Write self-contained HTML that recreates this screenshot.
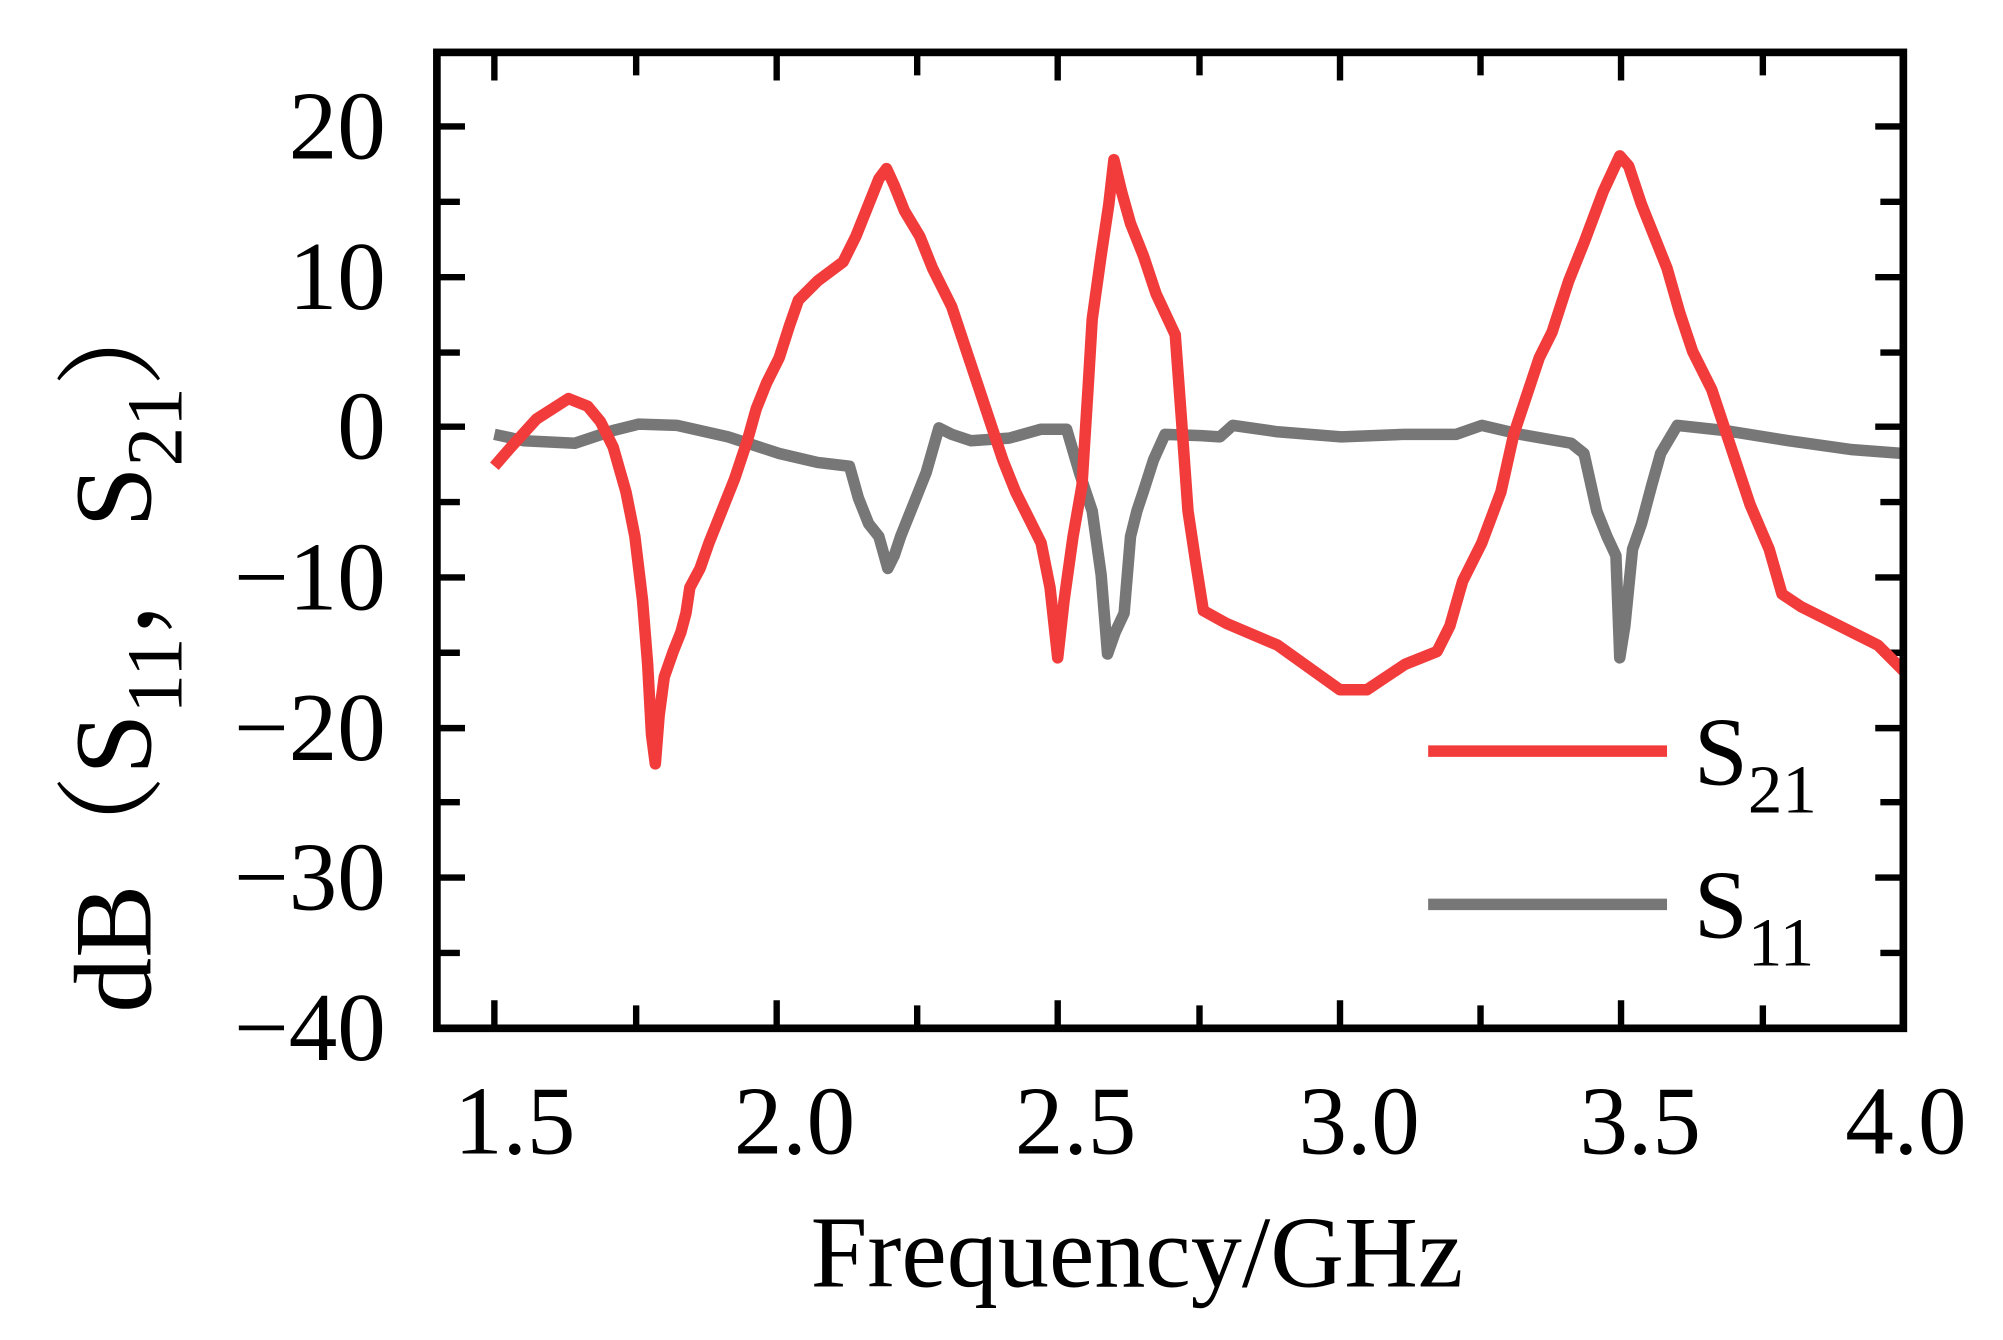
<!DOCTYPE html>
<html><head><meta charset="utf-8"><style>html,body{margin:0;padding:0;background:#fff}svg{display:block}</style></head>
<body>
<svg width="2003" height="1340" viewBox="0 0 1568 1049" xmlns="http://www.w3.org/2000/svg" font-family="'Liberation Serif', 'Noto Serif CJK SC', serif">
<rect x="0" y="0" width="1568" height="1049" fill="#fff"/>
<g stroke="#000" stroke-width="5">
<path d="M342 99h22M342 217h22M342 334h22M342 452h22M342 570h22M342 687h22M342 158h18M342 276h18M342 393h18M342 511h18M342 628h18M342 746h18
M1490 99h-22M1490 217h-22M1490 334h-22M1490 452h-22M1490 570h-22M1490 687h-22M1490 158h-18M1490 276h-18M1490 393h-18M1490 511h-18M1490 628h-18M1490 746h-18
M387 805v-22M608 805v-22M828 805v-22M1049 805v-22M1269 805v-22M498 805v-18M718 805v-18M939 805v-18M1159 805v-18M1380 805v-18
M387 41v22M608 41v22M828 41v22M1049 41v22M1269 41v22M498 41v18M718 41v18M939 41v18M1159 41v18M1380 41v18"/>
</g>
<polyline fill="none" stroke="#777" stroke-width="9" stroke-linejoin="round" points="387,340 410,345 450,347 480,337 500,332 530,333 570,342 610,355 640,362 665,365 672,390 680,410 688,420 695,445 700,435 705,420 715,395 725,370 735,335 745,340 760,345 790,343 815,336 835,336 845,370 855,400 862,450 867,512 873,495 880,480 885,420 890,400 895,385 903,360 912,340 940,341 955,342 965,333 1000,338 1050,342 1100,340 1140,340 1160,333 1190,340 1230,347 1240,355 1250,400 1258,420 1265,435 1268,515 1272,490 1278,430 1285,410 1293,380 1300,355 1313,333 1350,337 1400,345 1450,352 1490,355"/>
<polyline fill="none" stroke="#f23c3c" stroke-width="9" stroke-linejoin="round" points="387,365 400,350 420,328 445,312 460,318 470,330 480,350 490,385 497,420 503,470 507,520 510,575 513,598 516,560 520,530 527,510 533,495 537,480 540,460 548,445 555,425 565,400 575,375 585,345 592,320 600,300 610,280 618,255 625,235 640,220 660,205 670,185 680,160 688,140 694,132 700,145 708,165 720,185 730,210 745,240 755,270 765,300 775,330 785,360 795,385 805,405 815,425 822,460 828,515 833,470 840,420 847,380 852,300 855,250 862,200 868,160 872,125 878,150 885,175 895,200 905,230 920,262 925,330 930,400 936,440 942,478 960,488 1000,505 1049,540 1070,540 1100,520 1125,510 1135,490 1145,455 1160,425 1175,385 1185,340 1195,310 1205,280 1215,260 1228,220 1240,190 1255,150 1268,122 1275,130 1285,160 1295,185 1305,210 1315,245 1325,275 1340,305 1350,335 1360,365 1370,395 1385,430 1395,465 1410,475 1430,485 1450,495 1470,505 1490,525"/>
<rect x="342" y="41" width="1148" height="764" fill="none" stroke="#000" stroke-width="6"/>
<line x1="1118" y1="588" x2="1305" y2="588" stroke="#f23c3c" stroke-width="9"/>
<line x1="1118" y1="708" x2="1305" y2="708" stroke="#777" stroke-width="9"/>
<g font-size="76" fill="#000">
<text x="1326" y="614">S<tspan font-size="54" dy="22">21</tspan></text>
<text x="1326" y="734">S<tspan font-size="54" dy="22">11</tspan></text>
</g>
<g font-size="76" fill="#000" text-anchor="end">
<text x="302" y="124">20</text><text x="302" y="242">10</text><text x="302" y="359">0</text>
<text x="302" y="477">−10</text><text x="302" y="595">−20</text><text x="302" y="712">−30</text><text x="302" y="830">−40</text>
</g>
<g font-size="76" fill="#000" text-anchor="middle">
<text x="403" y="903">1.5</text><text x="622" y="903">2.0</text><text x="842" y="903">2.5</text>
<text x="1064" y="903">3.0</text><text x="1284" y="903">3.5</text><text x="1492" y="903">4.0</text>
</g>
<text x="890" y="1007" font-size="80" text-anchor="middle">Frequency/GHz</text>
<text transform="translate(118,505) rotate(-90)" font-size="86" text-anchor="middle">dB（S<tspan font-size="62" dy="24">11</tspan><tspan dy="-24">，S</tspan><tspan font-size="62" dy="24">21</tspan><tspan dy="-24">）</tspan></text>
</svg>
</body></html>
